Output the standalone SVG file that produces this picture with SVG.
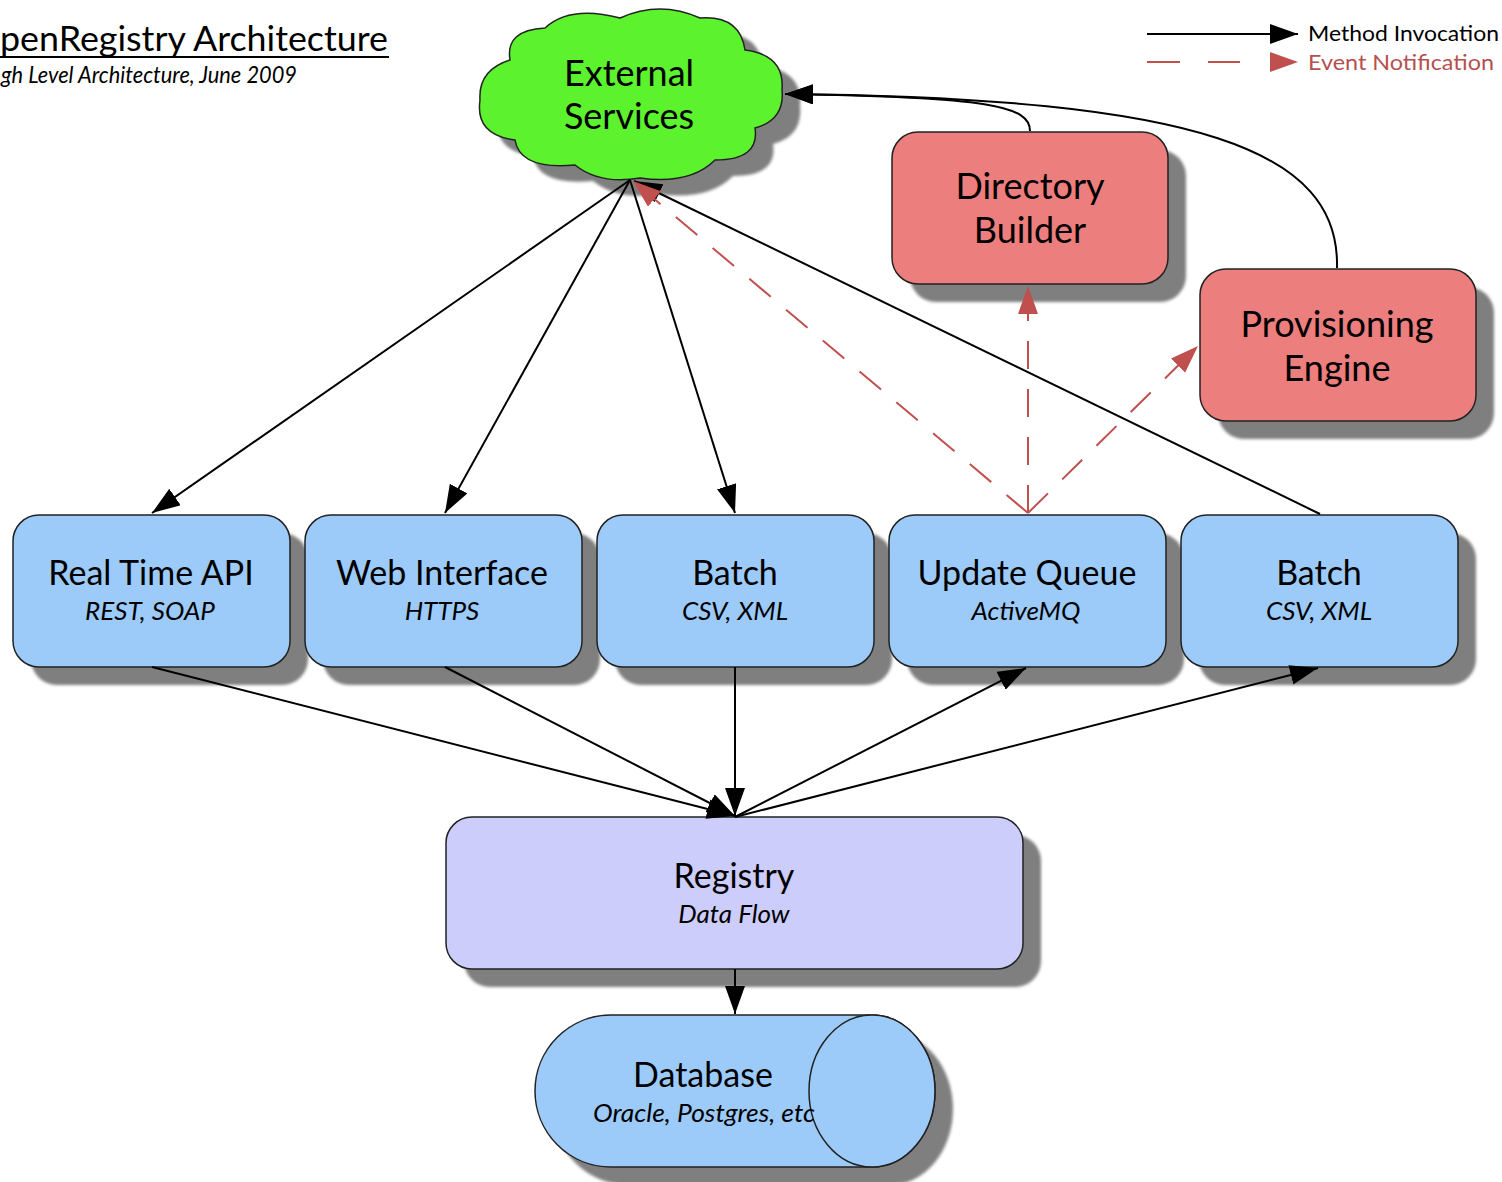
<svg xmlns="http://www.w3.org/2000/svg" width="1502" height="1182" viewBox="0 0 1502 1182">
<style>
  text { font-family: "Lato", "Open Sans", "Liberation Sans", sans-serif; fill: #000; }
  .t { font-size: 34px; text-anchor: middle; }
  .s { font-size: 26px; font-style: italic; text-anchor: middle; }
  .shadow { fill: #7f7f7f; }
  .blue { fill: #9ccbf9; stroke: #222; stroke-width: 1.5; }
  .red { fill: #ec7e7e; stroke: #222; stroke-width: 1.5; }
  .purple { fill: #cdcdfb; stroke: #222; stroke-width: 1.5; }
  .m { fill: none; stroke: #000; stroke-width: 2; marker-end: url(#ah); }
  .e { fill: none; stroke: #c0504d; stroke-width: 2; stroke-dasharray: 28 20; marker-end: url(#ahr); }
</style>
<defs>
  <marker id="ah" markerUnits="userSpaceOnUse" markerWidth="30" markerHeight="24" refX="28" refY="10" orient="auto">
    <path d="M0,0 L28,10 L0,20 Z" fill="#000"/>
  </marker>
  <marker id="ahr" markerUnits="userSpaceOnUse" markerWidth="30" markerHeight="24" refX="28" refY="10" orient="auto">
    <path d="M0,0 L28,10 L0,20 Z" fill="#c0504d"/>
  </marker>
  <filter id="blur" x="-10%" y="-10%" width="120%" height="120%"><feGaussianBlur stdDeviation="1.5"/></filter>
</defs>

<g id="title">
  <text x="0" y="51" style="font-size:35px" textLength="388" lengthAdjust="spacingAndGlyphs">penRegistry Architecture</text>
  <line x1="0" y1="57" x2="389" y2="57" stroke="#000" stroke-width="2"/>
  <text x="1" y="83" style="font-size:23px;font-style:italic" textLength="296" lengthAdjust="spacingAndGlyphs">gh Level Architecture, June 2009</text>
</g>

<g id="legend">
  <line x1="1147" y1="34" x2="1298" y2="34" class="m"/>
  <text x="1308" y="41" style="font-size:22px" textLength="191" lengthAdjust="spacingAndGlyphs">Method Invocation</text>
  <line x1="1147" y1="62" x2="1180" y2="62" stroke="#c0504d" stroke-width="2"/>
  <line x1="1208" y1="62" x2="1240" y2="62" stroke="#c0504d" stroke-width="2"/>
  <path d="M1270,52 L1298,62 L1270,72 Z" fill="#c0504d"/>
  <text x="1308" y="70" style="font-size:22px;fill:#b5504f" textLength="186" lengthAdjust="spacingAndGlyphs">Event Notification</text>
</g>

<g id="external-services">
  <path class="shadow" filter="url(#blur)" transform="translate(18,16)" d="M510,60 Q505,30 545,28 Q570,5 620,18 Q660,0 700,18 Q740,15 745,50 Q785,55 782,90 Q785,120 755,128 Q760,160 715,160 Q690,185 640,178 Q600,185 575,165 Q520,170 515,140 Q475,135 480,100 Q478,70 510,60 Z"/>
  <path fill="#5cf22d" stroke="#222" stroke-width="1.5" d="M510,60 Q505,30 545,28 Q570,5 620,18 Q660,0 700,18 Q740,15 745,50 Q785,55 782,90 Q785,120 755,128 Q760,160 715,160 Q690,185 640,178 Q600,185 575,165 Q520,170 515,140 Q475,135 480,100 Q478,70 510,60 Z"/>
  <text class="t" x="629" y="86" style="font-size:36px">External</text>
  <text class="t" x="629" y="129" style="font-size:36px">Services</text>
</g>

<g id="directory-builder">
  <rect class="shadow" filter="url(#blur)" x="910" y="150" width="276" height="152" rx="26"/>
  <rect class="red" x="892" y="132" width="276" height="152" rx="26"/>
  <text class="t" x="1030" y="199" style="font-size:36px">Directory</text>
  <text class="t" x="1030" y="243" style="font-size:36px">Builder</text>
</g>

<g id="provisioning-engine">
  <rect class="shadow" filter="url(#blur)" x="1218" y="287" width="276" height="152" rx="26"/>
  <rect class="red" x="1200" y="269" width="276" height="152" rx="26"/>
  <text class="t" x="1337" y="337" style="font-size:36px">Provisioning</text>
  <text class="t" x="1337" y="381" style="font-size:36px">Engine</text>
</g>

<g id="real-time-api">
  <rect class="shadow" filter="url(#blur)" x="31" y="533" width="277" height="152" rx="26"/>
  <rect class="blue" x="13" y="515" width="277" height="152" rx="26"/>
  <text class="t" x="151" y="585">Real Time API</text>
  <text class="s" x="150" y="620">REST, SOAP</text>
</g>

<g id="web-interface">
  <rect class="shadow" filter="url(#blur)" x="323" y="533" width="277" height="152" rx="26"/>
  <rect class="blue" x="305" y="515" width="277" height="152" rx="26"/>
  <text class="t" x="442" y="585">Web Interface</text>
  <text class="s" x="442" y="620">HTTPS</text>
</g>

<g id="batch-1">
  <rect class="shadow" filter="url(#blur)" x="615" y="533" width="277" height="152" rx="26"/>
  <rect class="blue" x="597" y="515" width="277" height="152" rx="26"/>
  <text class="t" x="735" y="585">Batch</text>
  <text class="s" x="735" y="620">CSV, XML</text>
</g>

<g id="update-queue">
  <rect class="shadow" filter="url(#blur)" x="907" y="533" width="277" height="152" rx="26"/>
  <rect class="blue" x="889" y="515" width="277" height="152" rx="26"/>
  <text class="t" x="1027" y="585">Update Queue</text>
  <text class="s" x="1026" y="620">ActiveMQ</text>
</g>

<g id="batch-2">
  <rect class="shadow" filter="url(#blur)" x="1199" y="533" width="277" height="152" rx="26"/>
  <rect class="blue" x="1181" y="515" width="277" height="152" rx="26"/>
  <text class="t" x="1319" y="585">Batch</text>
  <text class="s" x="1319" y="620">CSV, XML</text>
</g>

<g id="registry">
  <rect class="shadow" filter="url(#blur)" x="464" y="835" width="577" height="152" rx="26"/>
  <rect class="purple" x="446" y="817" width="577" height="152" rx="26"/>
  <text class="t" x="734" y="888">Registry</text>
  <text class="s" x="734" y="923">Data Flow</text>
</g>

<g id="database">
  <path class="shadow" filter="url(#blur)" transform="translate(18,18)" d="M611,1015 L872,1015 A63,76 0 0 1 872,1167 L611,1167 A76,76 0 0 1 611,1015 Z"/>
  <path class="blue" d="M611,1015 L872,1015 A63,76 0 0 1 872,1167 L611,1167 A76,76 0 0 1 611,1015 Z"/>
  <ellipse class="blue" cx="872" cy="1091" rx="63" ry="76"/>
  <text class="t" x="703" y="1087">Database</text>
  <text x="593" y="1122" style="font-size:26px;font-style:italic" textLength="222" lengthAdjust="spacingAndGlyphs">Oracle, Postgres, etc</text>
</g>

<g id="connectors">
  <line x1="630" y1="180" x2="152" y2="513" class="m"/>
  <line x1="630" y1="180" x2="445" y2="513" class="m"/>
  <line x1="630" y1="180" x2="735" y2="513" class="m"/>
  <line x1="1320" y1="514" x2="634" y2="181" class="m"/>
  <line x1="1028" y1="513" x2="633" y2="181" class="e"/>
  <line x1="1028" y1="513" x2="1028" y2="286" class="e"/>
  <line x1="1028" y1="513" x2="1198" y2="346" class="e"/>
  <path d="M1030,131 C1030,106 990,97 785,94" class="m"/>
  <path d="M1337,268 C1340,150 1200,98 785,94" class="m"/>
  <line x1="152" y1="667" x2="735" y2="816" class="m"/>
  <line x1="445" y1="667" x2="735" y2="816" class="m"/>
  <line x1="735" y1="667" x2="735" y2="816" class="m"/>
  <line x1="735" y1="817" x2="1026" y2="668" class="m"/>
  <line x1="735" y1="817" x2="1318" y2="668" class="m"/>
  <line x1="735" y1="969" x2="735" y2="1014" class="m"/>
</g>
</svg>
